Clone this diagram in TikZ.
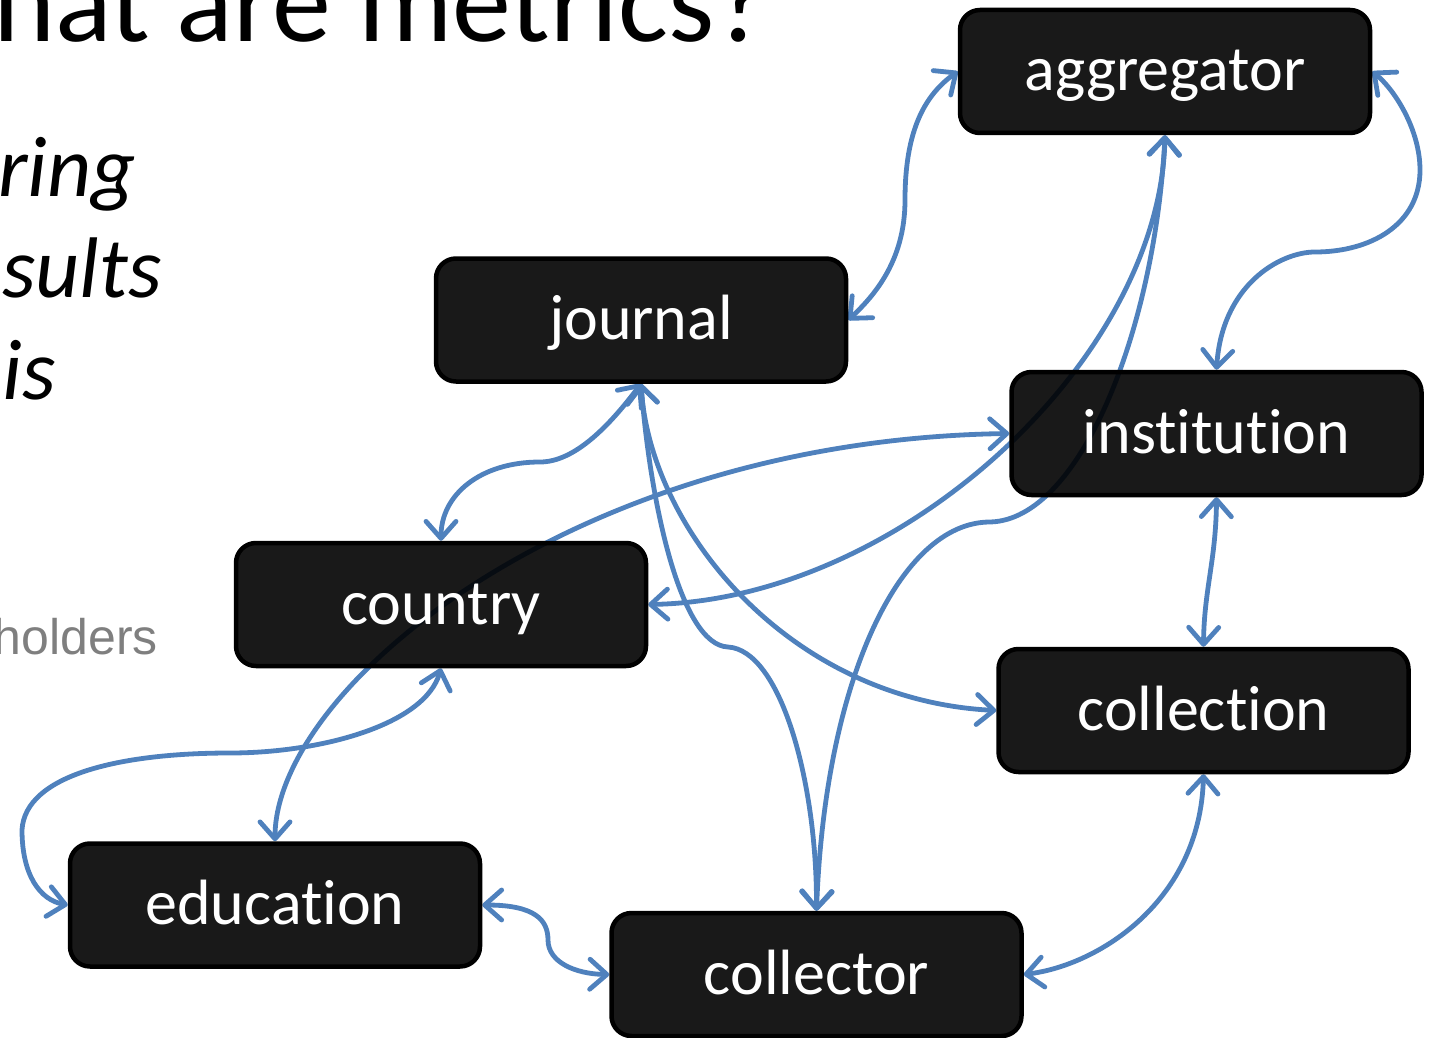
\documentclass[tikz,border=0pt]{standalone}
\usepackage{fontspec}
\setmainfont{Carlito}[Ligatures={NoCommon,NoRequired,NoContextual}]
\newfontfamily\arialf{Liberation Sans}
\usetikzlibrary{arrows.meta,backgrounds}
\definecolor{conn}{HTML}{4F81BD}
\definecolor{graytxt}{HTML}{7F7F7F}
\begin{document}
\begin{tikzpicture}[x=1pt,y=-1pt,
  stakebox/.style={draw=black, line width=4.5pt, fill=black, fill opacity=0.9, draw opacity=1, text opacity=1,
    rounded corners=20pt, minimum width=410pt, minimum height=123pt, inner sep=0pt,
    text=white, font=\fontsize{64}{72}\selectfont, text height=51pt, text depth=12pt},
  link/.style={draw=conn, line width=4.8pt,
    {Straight Barb[length=17pt,width=30pt,round]}-{Straight Barb[length=17pt,width=30pt,round]}},
  slidetext/.style={inner sep=0pt, anchor=base east},
]
\useasboundingbox (0,0) rectangle (1435,1038);

% slide text
\node[inner sep=0pt, anchor=base west, font=\fontsize{118}{130}\selectfont] (title) at (-7,42) {hat are metrics?};
\node[slidetext, font=\fontsize{86}{100}\selectfont\itshape] (l1) at (136,196) {ring};
\node[slidetext, font=\fontsize{86}{100}\selectfont\itshape] (l2) at (162,297) {sults};
\node[slidetext, font=\fontsize{86}{100}\selectfont\itshape] (l3) at (56,399) {is};
\node[slidetext, font=\arialf\fontsize{50}{56}\selectfont, text=graytxt] (hold) at (158,654) {holders};

% boxes
\node[stakebox] (aggregator)  at (1165,71.5)   {aggregator};
\node[stakebox] (journal)     at (641,320)     {journal};
\node[stakebox] (institution) at (1216.5,433.5){institution};
\node[stakebox] (country)     at (441,604.5)   {country};
\node[stakebox] (collection)  at (1203.5,710.5){collection};
\node[stakebox] (education)   at (275,905)     {education};
\node[stakebox] (collector)   at (816.5,974.5) {collector};

\begin{scope}[on background layer]
% journal <-> aggregator
\draw[link] (journal.east) .. controls (875,295) and (905,260) .. (905,200)
  .. controls (905,130) and (925,95) .. (aggregator.west);
% aggregator <-> institution
\draw[link] (aggregator.east) .. controls (1395,90) and (1420,130) .. (1420,170)
  .. controls (1420,225) and (1370,252) .. (1315,252)
  .. controls (1280,252) and (1222,285) .. (institution.north);
% journal <-> country
\draw[link] (journal.south) .. controls (610,425) and (575,462) .. (540,462)
  .. controls (480,462) and (441,495) .. (country.north);
% journal <-> collection
\draw[link] (journal.south) .. controls (650,530) and (790,700) .. (collection.west);
% journal <-> collector
\draw[link] (journal.south) .. controls (650,500) and (680,645) .. (728,647)
  .. controls (780,650) and (817,780) .. (collector.north);
% aggregator <-> country
\draw[link] (aggregator.south) .. controls (1160,360) and (900,600) .. (country.east);
% aggregator <-> collector
\draw[link] (aggregator.south) .. controls (1155,330) and (1080,520) .. (990,522)
  .. controls (900,522) and (825,680) .. (collector.north);
% education <-> institution
\draw[link] (education.north) .. controls (275,690) and (570,440) .. (institution.west);
% country <-> education
\draw[link] (country.south) .. controls (425,725) and (320,753) .. (230,753)
  .. controls (120,753) and (25,775) .. (22,830)
  .. controls (22,875) and (40,900) .. (education.west);
% institution <-> collection
\draw[link] (institution.south) .. controls (1216,560) and (1204,590) .. (collection.north);
% collection <-> collector
\draw[link] (collection.south) .. controls (1200,900) and (1100,965) .. (collector.east);
% education <-> collector
\draw[link] (education.east) .. controls (535,905) and (548,920) .. (548,940)
  .. controls (548,962) and (575,974) .. (collector.west);
\end{scope}
\end{tikzpicture}
\end{document}
